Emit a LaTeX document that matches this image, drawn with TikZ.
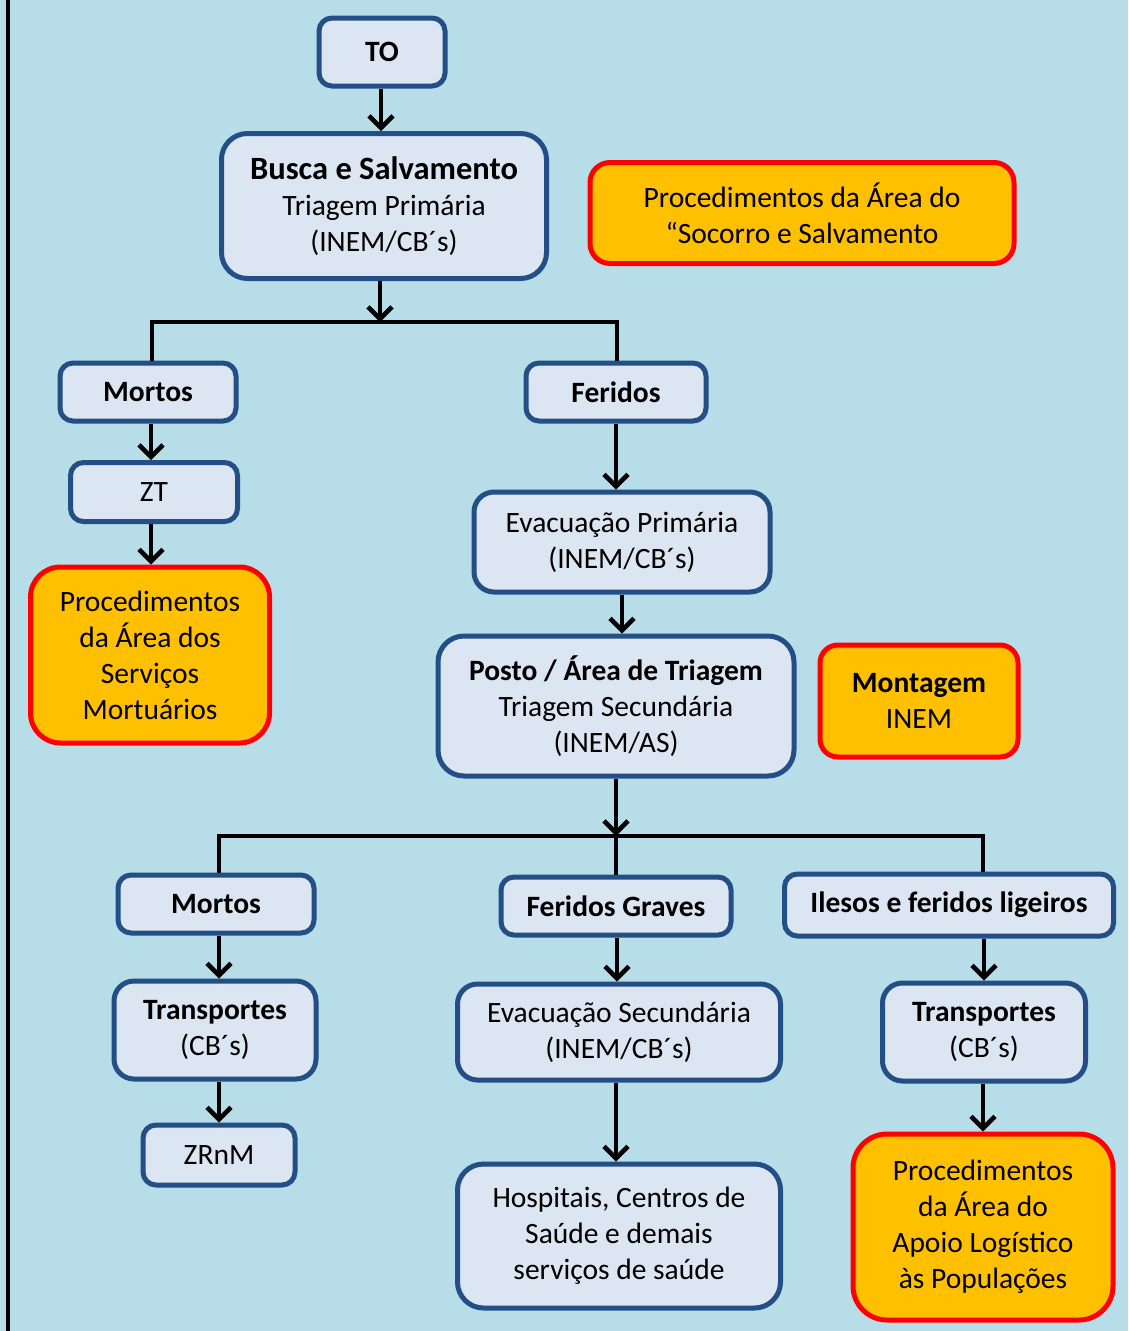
\documentclass[tikz,border=0pt]{standalone}
\usepackage{fontspec}
\setmainfont{Carlito}
\usetikzlibrary{arrows.meta}
\definecolor{sky}{HTML}{B7DDE8}
\definecolor{boxfill}{HTML}{DCE6F2}
\definecolor{boxline}{HTML}{234E86}
\definecolor{amber}{HTML}{FFC000}
\tikzset{
  box/.style={draw=boxline,fill=boxfill,line width=5pt,rounded corners=13pt,align=center,inner sep=2pt},
  hot/.style={draw=red,fill=amber,line width=5pt,rounded corners=22pt,align=center,inner sep=2pt},
  arr/.style={line width=4.5pt,-{Straight Barb[length=12pt,width=24pt,line width=4.5pt]}},
  link/.style={line width=4.5pt}
}
\begin{document}
\begin{tikzpicture}[x=1pt,y=-1pt,font=\fontsize{29.5}{36}\selectfont]
            \useasboundingbox (0,0) rectangle (1128,1331);
            \fill[sky] (0,0) rectangle (1128,1331);
            \draw[line width=4pt] (8,0)--(8,1331);

            % upper part
            \node[box,minimum width=126,minimum height=68] (to) at (382,52) {\textbf{TO}};
            \node[box,minimum width=325,minimum height=145,rounded corners=26pt] (busca) at (384,206)
                {{\fontsize{32.5}{36}\selectfont\textbf{Busca e Salvamento}}\\Triagem Primária\\(INEM/CB´s)};
            \node[hot,minimum width=424,minimum height=101,rounded corners=20pt] (socorro) at (802,213)
                {Procedimentos da Área do\\“Socorro e Salvamento};
            \node[box,minimum width=176,minimum height=58] (mortosA) at (148,392) {\textbf{Mortos}};
            \node[box,minimum width=180,minimum height=58] (feridosA) at (616,392) {\textbf{Feridos}};
            \node[box,minimum width=167,minimum height=59] (zt) at (154,492) {ZT};
            \node[hot,minimum width=239,minimum height=176,rounded corners=30pt] (mortuarios) at (150,655)
                {Procedimentos\\da Área dos\\Serviços\\Mortuários};
            \node[box,minimum width=296,minimum height=100,rounded corners=20pt] (evacP) at (622,542)
                {Evacuação Primária\\(INEM/CB´s)};
            \node[box,minimum width=356,minimum height=140,rounded corners=26pt] (posto) at (616,706)
                {\textbf{Posto / Área de Triagem}\\Triagem Secundária\\(INEM/AS)};
            \node[hot,minimum width=198,minimum height=112,rounded corners=18pt] (montagem) at (919,701)
                {\textbf{Montagem}\\INEM};

            % lower part
            \node[box,minimum width=196,minimum height=58] (mortosB) at (216,904) {\textbf{Mortos}};
            \node[box,minimum width=230,minimum height=58] (graves) at (616,906) {\textbf{Feridos Graves}};
            \node[box,minimum width=329,minimum height=62] (ilesos) at (949,905) {\textbf{Ilesos e feridos ligeiros}};
            \node[box,minimum width=202,minimum height=98,rounded corners=20pt] (transpA) at (215,1030)
                {\textbf{Transportes}\\(CB´s)};
            \node[box,minimum width=323,minimum height=96,rounded corners=20pt] (evacS) at (619,1032)
                {Evacuação Secundária\\(INEM/CB´s)};
            \node[box,minimum width=203,minimum height=98,rounded corners=20pt] (transpB) at (984,1032)
                {\textbf{Transportes}\\(CB´s)};
            \node[box,minimum width=152,minimum height=60] (zrnm) at (219,1155) {ZRnM};
            \node[box,minimum width=323,minimum height=144,rounded corners=26pt] (hosp) at (619,1236)
                {Hospitais, Centros de\\Saúde e demais\\serviços de saúde};
            \node[hot,minimum width=260,minimum height=186,rounded corners=34pt] (apoio) at (983,1227)
                {Procedimentos\\da Área do\\Apoio Logístico\\às Populações};

            % connectors
            \coordinate (forkA) at (380,322);
            \coordinate (forkB) at (616,836);
            \draw[arr] ([xshift=-1pt]to.south) -- ([xshift=-1pt]to.south |- busca.north);
            \draw[arr] (forkA |- busca.south) -- (forkA);
            \draw[link] ([xshift=4pt]mortosA.north) |- (forkA) -| ([xshift=1pt]feridosA.north);
            \draw[arr] ([xshift=3pt]mortosA.south) -- ([xshift=3pt]mortosA.south |- zt.north);
            \draw[arr] ([xshift=-3pt]zt.south) -- ([xshift=1pt]mortuarios.north);
            \draw[arr] (feridosA.south) -- (feridosA.south |- evacP.north);
            \draw[arr] (evacP.south) -- (evacP.south |- posto.north);
            \draw[arr] (posto.south) -- (forkB);
            \draw[link] ([xshift=3pt]mortosB.north) |- (forkB) -| ([xshift=34pt]ilesos.north);
            \draw[link] (forkB) -- (graves.north);
            \draw[arr] ([xshift=3pt]mortosB.south) -- ([xshift=3pt]mortosB.south |- transpA.north);
            \draw[arr] ([xshift=4pt]transpA.south) -- (zrnm.north);
            \draw[arr] ([xshift=1pt]graves.south) -- ([xshift=1pt]graves.south |- evacS.north);
            \draw[arr] ([xshift=-3pt]evacS.south) -- ([xshift=-3pt]evacS.south |- hosp.north);
            \draw[arr] ([xshift=35pt]ilesos.south) -- ([xshift=35pt]ilesos.south |- transpB.north);
            \draw[arr] ([xshift=-1pt]transpB.south) -- ([xshift=-1pt]transpB.south |- apoio.north);
\end{tikzpicture}
\end{document}
